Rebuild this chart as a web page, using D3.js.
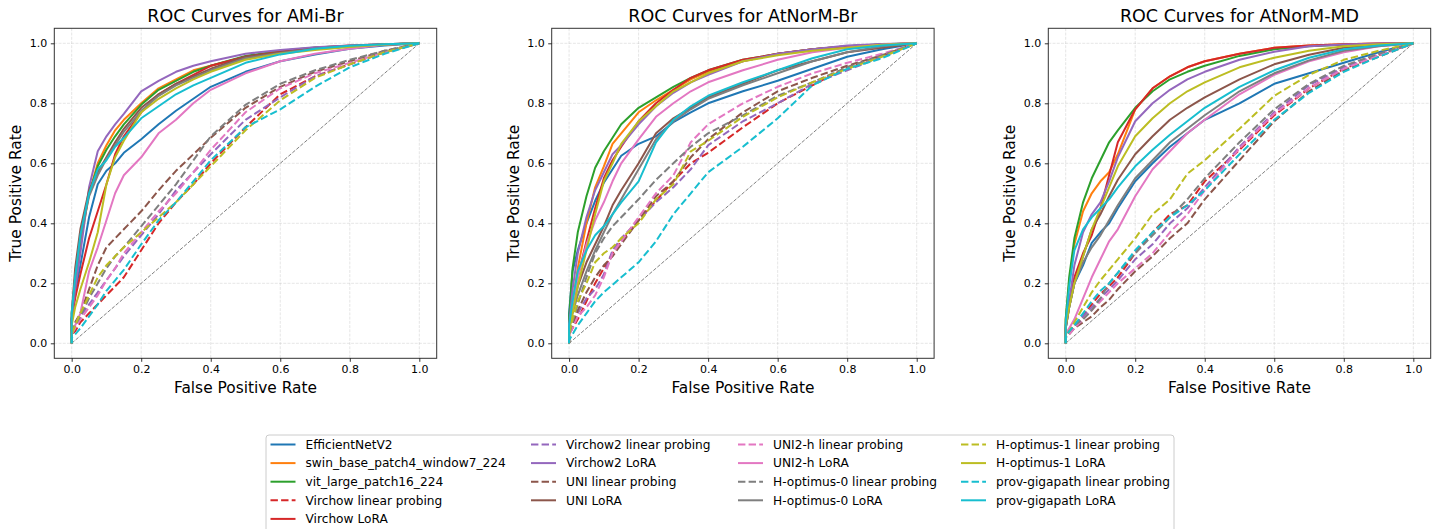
<!DOCTYPE html>
<html><head><meta charset="utf-8">
<script src="https://cdn.jsdelivr.net/npm/d3@7"></script>
<style>
body{margin:0;background:#fff}
text{font-family:"DejaVu Sans",sans-serif}
</style>
</head><body><svg id="chart" width="1444" height="529"></svg>
<script>
// ---------- data ----------
const modelNames = ["EfficientNetV2","swin_base_patch4_window7_224","vit_large_patch16_224",
  "Virchow linear probing","Virchow LoRA","Virchow2 linear probing","Virchow2 LoRA",
  "UNI linear probing","UNI LoRA","UNI2-h linear probing","UNI2-h LoRA",
  "H-optimus-0 linear probing","H-optimus-0 LoRA","H-optimus-1 linear probing","H-optimus-1 LoRA",
  "prov-gigapath linear probing","prov-gigapath LoRA"];
const modelColors = ["#1f77b4","#ff7f0e","#2ca02c","#d62728","#d62728","#9467bd","#9467bd",
  "#8c564b","#8c564b","#e377c2","#e377c2","#7f7f7f","#7f7f7f","#bcbd22","#bcbd22","#17becf","#17becf"];
const modelDashed = [false,false,false,true,false,true,false,true,false,true,false,true,false,true,false,true,false];
const datasetTitles = ["ROC Curves for AMi-Br","ROC Curves for AtNorM-Br","ROC Curves for AtNorM-MD"];
const tickValues = [0,0.2,0.4,0.6,0.8,1.0];
const fprGrid = [0,0.01,0.025,0.05,0.075,0.1,0.125,0.15,0.2,0.25,0.3,0.35,0.4,0.5,0.6,0.7,0.8,0.9,1];

const tprAMiBr = [
 [0.08,0.17,0.26,0.42,0.53,0.575,0.60,0.635,0.68,0.73,0.775,0.815,0.855,0.905,0.94,0.963,0.982,0.993,1],
 [0.08,0.22,0.33,0.50,0.60,0.66,0.71,0.745,0.80,0.85,0.88,0.91,0.925,0.955,0.972,0.983,0.99,0.996,1],
 [0.08,0.22,0.35,0.50,0.59,0.645,0.69,0.73,0.795,0.845,0.875,0.905,0.925,0.958,0.975,0.986,0.992,0.997,1],
 [0.03,0.04,0.07,0.10,0.13,0.16,0.19,0.22,0.31,0.40,0.47,0.53,0.60,0.72,0.83,0.89,0.93,0.97,1],
 [0.08,0.15,0.23,0.35,0.44,0.53,0.63,0.69,0.77,0.83,0.865,0.895,0.925,0.955,0.972,0.985,0.993,0.997,1],
 [0.03,0.06,0.09,0.13,0.17,0.21,0.25,0.29,0.36,0.43,0.51,0.57,0.63,0.745,0.82,0.89,0.93,0.97,1],
 [0.08,0.18,0.30,0.52,0.64,0.69,0.73,0.765,0.84,0.875,0.905,0.925,0.94,0.965,0.978,0.987,0.993,0.997,1],
 [0.04,0.07,0.10,0.18,0.26,0.32,0.35,0.38,0.44,0.51,0.575,0.63,0.685,0.785,0.855,0.905,0.94,0.975,1],
 [0.10,0.25,0.38,0.51,0.57,0.62,0.67,0.715,0.785,0.83,0.865,0.89,0.915,0.955,0.97,0.982,0.99,0.996,1],
 [0.03,0.05,0.08,0.12,0.16,0.21,0.25,0.30,0.37,0.44,0.50,0.57,0.645,0.77,0.85,0.90,0.935,0.97,1],
 [0.04,0.06,0.10,0.24,0.32,0.41,0.50,0.56,0.62,0.70,0.745,0.80,0.845,0.9,0.94,0.965,0.982,0.995,1],
 [0.04,0.06,0.09,0.15,0.20,0.25,0.29,0.32,0.39,0.46,0.53,0.61,0.69,0.795,0.865,0.91,0.945,0.975,1],
 [0.10,0.22,0.35,0.49,0.56,0.615,0.66,0.705,0.775,0.825,0.86,0.885,0.91,0.95,0.968,0.982,0.99,0.996,1],
 [0.03,0.06,0.10,0.16,0.22,0.26,0.29,0.32,0.37,0.42,0.47,0.53,0.59,0.71,0.81,0.885,0.93,0.97,1],
 [0.06,0.12,0.18,0.27,0.37,0.53,0.62,0.675,0.77,0.815,0.85,0.88,0.905,0.945,0.965,0.978,0.988,0.996,1],
 [0.02,0.03,0.05,0.09,0.13,0.175,0.21,0.245,0.33,0.41,0.47,0.54,0.61,0.72,0.78,0.855,0.92,0.965,1],
 [0.10,0.22,0.36,0.50,0.58,0.61,0.655,0.685,0.75,0.79,0.83,0.86,0.885,0.935,0.963,0.982,0.992,0.997,1]
];
const tprAtNorMBr = [
 [0.10,0.24,0.31,0.40,0.475,0.535,0.58,0.625,0.665,0.69,0.737,0.77,0.80,0.84,0.875,0.915,0.955,0.98,1],
 [0.05,0.14,0.25,0.40,0.52,0.59,0.665,0.70,0.77,0.81,0.845,0.88,0.905,0.94,0.965,0.98,0.99,0.996,1],
 [0.08,0.25,0.37,0.49,0.585,0.64,0.685,0.73,0.785,0.82,0.855,0.885,0.91,0.945,0.965,0.98,0.99,0.997,1],
 [0.03,0.05,0.08,0.14,0.20,0.25,0.30,0.34,0.41,0.475,0.54,0.60,0.635,0.72,0.80,0.86,0.92,0.96,1],
 [0.05,0.12,0.22,0.34,0.45,0.55,0.61,0.655,0.74,0.80,0.845,0.885,0.91,0.945,0.965,0.98,0.99,0.996,1],
 [0.03,0.06,0.10,0.15,0.18,0.23,0.31,0.35,0.41,0.47,0.52,0.58,0.66,0.74,0.80,0.865,0.91,0.955,1],
 [0.06,0.18,0.30,0.42,0.51,0.57,0.63,0.66,0.73,0.79,0.835,0.87,0.895,0.94,0.965,0.98,0.993,0.998,1],
 [0.03,0.06,0.11,0.17,0.22,0.26,0.29,0.33,0.41,0.49,0.54,0.62,0.68,0.77,0.84,0.885,0.925,0.96,1],
 [0.05,0.11,0.19,0.27,0.33,0.39,0.46,0.51,0.60,0.70,0.75,0.785,0.82,0.865,0.91,0.94,0.97,0.985,1],
 [0.03,0.05,0.09,0.12,0.16,0.22,0.30,0.34,0.42,0.50,0.56,0.67,0.73,0.80,0.855,0.90,0.935,0.965,1],
 [0.05,0.13,0.22,0.33,0.41,0.47,0.54,0.60,0.68,0.755,0.80,0.84,0.87,0.91,0.945,0.97,0.985,0.995,1],
 [0.03,0.07,0.13,0.22,0.30,0.35,0.39,0.42,0.48,0.545,0.60,0.655,0.70,0.76,0.825,0.87,0.92,0.96,1],
 [0.05,0.10,0.16,0.24,0.31,0.37,0.43,0.48,0.58,0.68,0.74,0.78,0.815,0.86,0.90,0.94,0.97,0.99,1],
 [0.03,0.08,0.14,0.20,0.27,0.30,0.32,0.35,0.40,0.48,0.53,0.64,0.675,0.755,0.82,0.87,0.915,0.955,1],
 [0.04,0.10,0.19,0.31,0.43,0.54,0.60,0.665,0.74,0.79,0.84,0.87,0.90,0.94,0.96,0.975,0.985,0.995,1],
 [0.01,0.03,0.06,0.10,0.14,0.17,0.195,0.22,0.27,0.34,0.43,0.50,0.57,0.655,0.75,0.86,0.915,0.95,1],
 [0.06,0.14,0.24,0.31,0.36,0.39,0.43,0.47,0.54,0.67,0.745,0.79,0.825,0.87,0.91,0.95,0.98,0.993,1]
];
const tprAtNorMMD = [
 [0.05,0.12,0.20,0.26,0.335,0.37,0.40,0.45,0.54,0.60,0.655,0.70,0.745,0.80,0.865,0.90,0.935,0.97,1],
 [0.08,0.20,0.33,0.44,0.50,0.54,0.57,0.63,0.78,0.85,0.89,0.92,0.94,0.965,0.985,0.993,0.997,0.999,1],
 [0.08,0.22,0.35,0.47,0.55,0.61,0.67,0.71,0.785,0.84,0.88,0.905,0.925,0.958,0.98,0.99,0.995,0.998,1],
 [0.02,0.04,0.06,0.09,0.13,0.165,0.19,0.22,0.30,0.37,0.43,0.46,0.54,0.645,0.76,0.85,0.915,0.96,1],
 [0.06,0.14,0.22,0.30,0.36,0.45,0.56,0.67,0.78,0.85,0.89,0.92,0.94,0.965,0.985,0.993,0.997,0.999,1],
 [0.02,0.04,0.06,0.09,0.12,0.15,0.18,0.21,0.28,0.33,0.40,0.45,0.52,0.655,0.77,0.86,0.92,0.963,1],
 [0.05,0.14,0.26,0.37,0.43,0.47,0.54,0.62,0.74,0.80,0.845,0.88,0.905,0.945,0.972,0.99,0.996,0.999,1],
 [0.02,0.03,0.05,0.07,0.09,0.12,0.145,0.18,0.24,0.29,0.35,0.40,0.48,0.61,0.74,0.84,0.91,0.955,1],
 [0.05,0.12,0.20,0.29,0.38,0.43,0.49,0.545,0.63,0.69,0.745,0.785,0.82,0.88,0.93,0.962,0.985,0.995,1],
 [0.02,0.03,0.05,0.08,0.11,0.14,0.17,0.20,0.25,0.30,0.37,0.43,0.51,0.65,0.765,0.85,0.915,0.96,1],
 [0.03,0.05,0.08,0.15,0.22,0.28,0.34,0.38,0.49,0.58,0.64,0.70,0.745,0.83,0.895,0.94,0.97,0.99,1],
 [0.02,0.04,0.06,0.08,0.11,0.15,0.20,0.235,0.30,0.36,0.42,0.48,0.55,0.67,0.78,0.865,0.925,0.965,1],
 [0.05,0.12,0.20,0.27,0.32,0.36,0.41,0.46,0.55,0.61,0.67,0.715,0.76,0.84,0.90,0.943,0.975,0.99,1],
 [0.02,0.04,0.07,0.12,0.17,0.21,0.245,0.28,0.35,0.43,0.48,0.565,0.61,0.715,0.825,0.895,0.945,0.975,1],
 [0.06,0.12,0.20,0.29,0.38,0.45,0.52,0.59,0.69,0.75,0.80,0.84,0.87,0.92,0.952,0.975,0.99,0.997,1],
 [0.02,0.04,0.06,0.10,0.14,0.175,0.20,0.235,0.31,0.37,0.42,0.46,0.51,0.63,0.745,0.835,0.905,0.955,1],
 [0.07,0.19,0.31,0.38,0.42,0.45,0.48,0.52,0.59,0.645,0.695,0.74,0.785,0.855,0.91,0.952,0.98,0.993,1]
];
const panelTpr = [tprAMiBr, tprAtNorMBr, tprAtNorMMD];

// ---------- layout ----------
const svg = d3.select("#chart");
const panelLeft = [54.3, 551.7, 1048.3];
const axW = 382.4, axTop = 28.3, axBottom = 358.3;
const lineW = 2;

panelLeft.forEach((left, p) => {
  const x = d3.scaleLinear().domain([-0.05, 1.05]).range([left, left + axW]);
  const y = d3.scaleLinear().domain([-0.05, 1.05]).range([axBottom, axTop]);
  const g = svg.append("g");

  // grid
  g.append("g").selectAll("line").data(tickValues).join("line")
    .attr("x1", d => x(d)).attr("x2", d => x(d)).attr("y1", axTop).attr("y2", axBottom)
    .attr("stroke", "#b0b0b0").attr("stroke-opacity", 0.4).attr("stroke-width", 0.8)
    .attr("stroke-dasharray", "2.96,1.28");
  g.append("g").selectAll("line").data(tickValues).join("line")
    .attr("y1", d => y(d)).attr("y2", d => y(d)).attr("x1", left).attr("x2", left + axW)
    .attr("stroke", "#b0b0b0").attr("stroke-opacity", 0.4).attr("stroke-width", 0.8)
    .attr("stroke-dasharray", "2.96,1.28");

  // chance diagonal
  g.append("line").attr("x1", x(0)).attr("y1", y(0)).attr("x2", x(1)).attr("y2", y(1))
    .attr("stroke", "#808080").attr("stroke-width", 1).attr("stroke-dasharray", "3.7,1.6");

  // curves
  const line = d3.line().x(d => x(d[0])).y(d => y(d[1]));
  panelTpr[p].forEach((tpr, i) => {
    const pts = [[0, 0]].concat(fprGrid.map((f, k) => [f, tpr[k]]));
    g.append("path").datum(pts).attr("d", line).attr("fill", "none")
      .attr("stroke", modelColors[i]).attr("stroke-width", lineW)
      .attr("stroke-linejoin", "round")
      .attr("stroke-dasharray", modelDashed[i] ? "7.4,3.2" : null);
  });

  // frame
  g.append("rect").attr("x", left).attr("y", axTop).attr("width", axW).attr("height", axBottom - axTop)
    .attr("fill", "none").attr("stroke", "#333").attr("stroke-width", 1);

  // axes
  const xAxis = d3.axisBottom(x).tickValues(tickValues).tickFormat(d3.format(".1f")).tickSize(3.5).tickPadding(3.5);
  const yAxis = d3.axisLeft(y).tickValues(tickValues).tickFormat(d3.format(".1f")).tickSize(3.5).tickPadding(3.5);
  const gx = g.append("g").attr("transform", `translate(0,${axBottom})`).call(xAxis);
  const gy = g.append("g").attr("transform", `translate(${left},0)`).call(yAxis);
  [gx, gy].forEach(a => {
    a.select(".domain").remove();
    a.selectAll("line").attr("stroke", "#000").attr("stroke-width", 0.8);
    a.selectAll("text").attr("font-size", 11).attr("fill", "#000").attr("font-family", "DejaVu Sans");
  });

  // title and labels
  g.append("text").attr("x", left + axW / 2).attr("y", 21.7).attr("text-anchor", "middle")
    .attr("font-size", 17.5).attr("fill", "#000").text(datasetTitles[p]);
  g.append("text").attr("x", left + axW / 2).attr("y", 393).attr("text-anchor", "middle")
    .attr("font-size", 15.4).attr("fill", "#000").text("False Positive Rate");
  g.append("text").attr("transform", `translate(${left - 33},${(axTop + axBottom) / 2}) rotate(-90)`)
    .attr("text-anchor", "middle").attr("font-size", 15.4).attr("fill", "#000").text("True Positive Rate");
});

// ---------- legend ----------
const legend = svg.append("g");
legend.append("rect").attr("x", 266).attr("y", 435).attr("width", 908).attr("height", 130)
  .attr("rx", 3).attr("fill", "#fff").attr("fill-opacity", 0.8).attr("stroke", "#cccccc").attr("stroke-width", 1);
const nCol = 4;
const perCol = d3.range(nCol).map(c => Math.floor(modelNames.length / nCol) + (c < modelNames.length % nCol ? 1 : 0));
const colX = [270.5, 531, 738, 961];
const rowY0 = 444.5, rowStep = 18.6;
let idx = 0;
perCol.forEach((n, c) => {
  for (let r = 0; r < n; r++, idx++) {
    const yy = rowY0 + r * rowStep;
    legend.append("line").attr("x1", colX[c]).attr("x2", colX[c] + 25).attr("y1", yy).attr("y2", yy)
      .attr("stroke", modelColors[idx]).attr("stroke-width", lineW)
      .attr("stroke-dasharray", modelDashed[idx] ? "7.4,3.2" : null);
    legend.append("text").attr("x", colX[c] + 35).attr("y", yy + 4.3)
      .attr("font-size", 12.2).attr("fill", "#000").text(modelNames[idx]);
  }
});
</script>
</body></html>
